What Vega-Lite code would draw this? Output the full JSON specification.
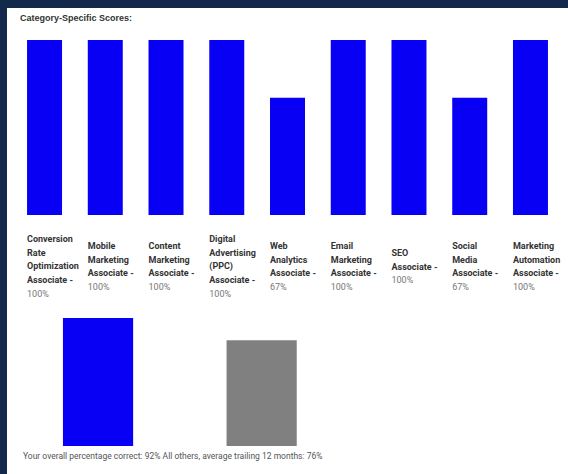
{
  "$schema": "https://vega.github.io/schema/vega-lite/v6.json",
  "background": "#13294b",
  "padding": {"left": 7, "top": 8, "right": 0, "bottom": 0},
  "spacing": 0,
  "config": {"view": {"fill": "white", "stroke": null}, "font": "Roboto"},
  "vconcat": [
    {
      "width": 561,
      "height": 297,
      "title": {"text": "Category-Specific Scores:", "anchor": "start", "frame": "group", "orient": "top", "offset": -22, "dx": 13, "baseline": "alphabetic", "font": "Liberation Sans", "fontSize": 9, "fontWeight": "bold", "color": "#333333"},
      "data": {"values": [
        {"category": "Conversion|Rate|Optimization|Associate -", "score": 100},
        {"category": "Mobile|Marketing|Associate -", "score": 100},
        {"category": "Content|Marketing|Associate -", "score": 100},
        {"category": "Digital|Advertising|(PPC)|Associate -", "score": 100},
        {"category": "Web|Analytics|Associate -", "score": 67},
        {"category": "Email|Marketing|Associate -", "score": 100},
        {"category": "SEO|Associate -", "score": 100},
        {"category": "Social|Media|Associate -", "score": 67},
        {"category": "Marketing|Automation|Associate -", "score": 100}
      ]},
      "transform": [
        {"calculate": "datum.score + '%'", "as": "pctText"}
      ],
      "encoding": {
        "x": {"field": "category", "type": "nominal", "sort": null, "axis": null, "scale": {"paddingInner": 0.424, "paddingOuter": 0.33}}
      },
      "layer": [
        {
          "mark": {"type": "bar", "color": "#0700f5"},
          "encoding": {
            "y": {"field": "score", "type": "quantitative", "axis": null, "scale": {"domain": [-51.43, 118.29], "nice": false, "zero": false}}
          }
        },
        {
          "transform": [{"filter": "length(split(datum.category, '|')) == 4"}],
          "mark": {"type": "text", "align": "left", "baseline": "middle", "dy": 24, "lineHeight": 13.7, "lineBreak": "|", "fontSize": 9, "fontWeight": "bold", "color": "#333333"},
          "encoding": {
            "x": {"field": "category", "type": "nominal", "sort": null, "bandPosition": 0},
            "y": {"datum": 0, "type": "quantitative"},
            "text": {"field": "category"}
          }
        },
        {
          "transform": [{"filter": "length(split(datum.category, '|')) == 4"}],
          "mark": {"type": "text", "align": "left", "baseline": "middle", "dy": 78.8, "fontSize": 9, "fontWeight": "normal", "color": "#777777"},
          "encoding": {
            "x": {"field": "category", "type": "nominal", "sort": null, "bandPosition": 0},
            "y": {"datum": 0, "type": "quantitative"},
            "text": {"field": "pctText"}
          }
        },
        {
          "transform": [{"filter": "length(split(datum.category, '|')) == 3"}],
          "mark": {"type": "text", "align": "left", "baseline": "middle", "dy": 31, "lineHeight": 13.7, "lineBreak": "|", "fontSize": 9, "fontWeight": "bold", "color": "#333333"},
          "encoding": {
            "x": {"field": "category", "type": "nominal", "sort": null, "bandPosition": 0},
            "y": {"datum": 0, "type": "quantitative"},
            "text": {"field": "category"}
          }
        },
        {
          "transform": [{"filter": "length(split(datum.category, '|')) == 3"}],
          "mark": {"type": "text", "align": "left", "baseline": "middle", "dy": 72.1, "fontSize": 9, "fontWeight": "normal", "color": "#777777"},
          "encoding": {
            "x": {"field": "category", "type": "nominal", "sort": null, "bandPosition": 0},
            "y": {"datum": 0, "type": "quantitative"},
            "text": {"field": "pctText"}
          }
        },
        {
          "transform": [{"filter": "length(split(datum.category, '|')) == 2"}],
          "mark": {"type": "text", "align": "left", "baseline": "middle", "dy": 38, "lineHeight": 13.7, "lineBreak": "|", "fontSize": 9, "fontWeight": "bold", "color": "#333333"},
          "encoding": {
            "x": {"field": "category", "type": "nominal", "sort": null, "bandPosition": 0},
            "y": {"datum": 0, "type": "quantitative"},
            "text": {"field": "category"}
          }
        },
        {
          "transform": [{"filter": "length(split(datum.category, '|')) == 2"}],
          "mark": {"type": "text", "align": "left", "baseline": "middle", "dy": 65.4, "fontSize": 9, "fontWeight": "normal", "color": "#777777"},
          "encoding": {
            "x": {"field": "category", "type": "nominal", "sort": null, "bandPosition": 0},
            "y": {"datum": 0, "type": "quantitative"},
            "text": {"field": "pctText"}
          }
        }
      ]
    },
    {
      "width": 561,
      "height": 169,
      "title": {"text": "Your overall percentage correct: 92% All others, average trailing 12 months: 76%", "anchor": "start", "frame": "group", "orient": "bottom", "offset": -14.7, "dx": 16, "baseline": "alphabetic", "font": "Roboto", "fontSize": 8.5, "fontWeight": "normal", "color": "#555555"},
      "data": {"values": [
        {"who": "Your overall percentage correct", "score": 92},
        {"who": "All others, average trailing 12 months", "score": 76}
      ]},
      "mark": {"type": "bar"},
      "encoding": {
        "x": {"field": "who", "type": "nominal", "sort": null, "axis": null, "scale": {"paddingInner": 0.571, "paddingOuter": 1.006, "align": 0.171}},
        "y": {"field": "score", "type": "quantitative", "axis": null, "scale": {"domain": [-20.14, 101.44], "nice": false, "zero": false}},
        "color": {"field": "who", "type": "nominal", "sort": null, "legend": null, "scale": {"domain": ["Your overall percentage correct", "All others, average trailing 12 months"], "range": ["#0700f5", "#808080"]}}
      }
    }
  ]
}
